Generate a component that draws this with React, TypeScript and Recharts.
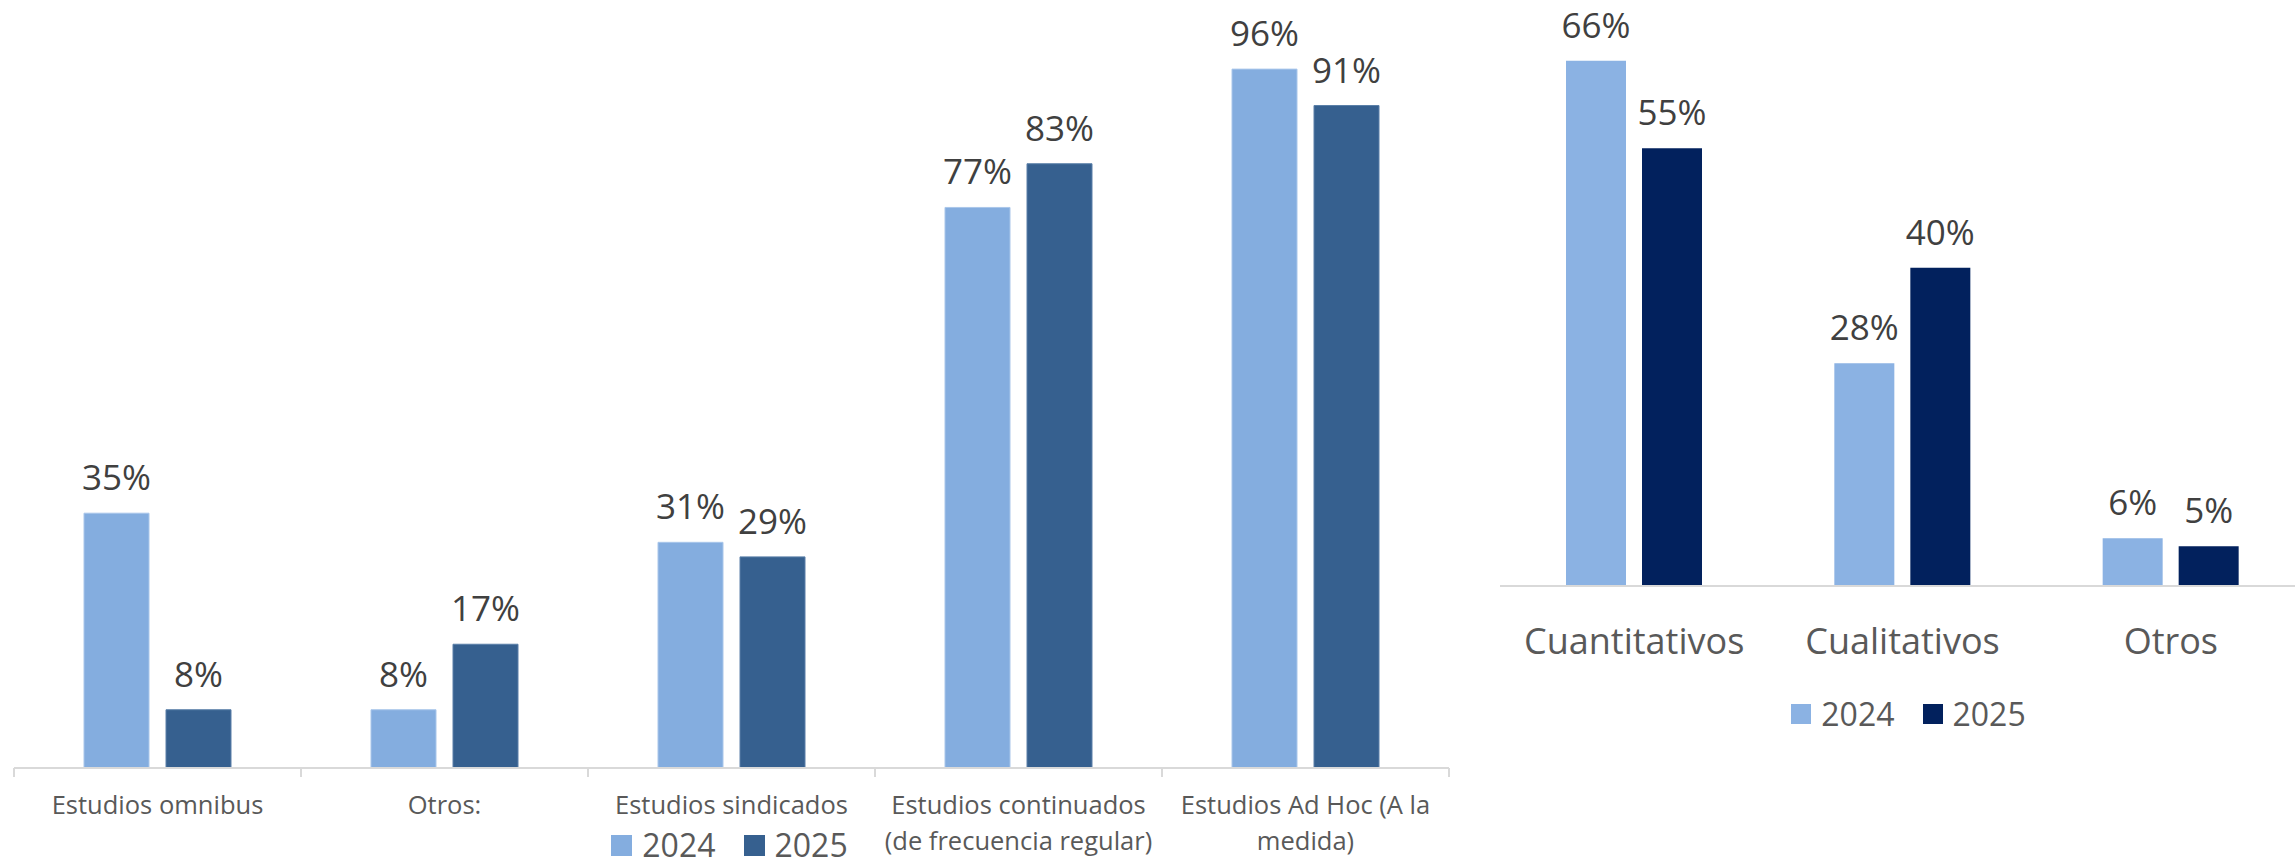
import React from 'react';
import { BarChart, Bar, XAxis, YAxis, Legend, LabelList } from 'recharts';

// left chart: tipos de estudio
const tiposEstudio = [
  'Estudios omnibus',
  'Otros:',
  'Estudios sindicados',
  'Estudios continuados\n(de frecuencia regular)',
  'Estudios Ad Hoc (A la\nmedida)',
];
const tipos2024 = [35, 8, 31, 77, 96];
const tipos2025 = [8, 17, 29, 83, 91];

// right chart: metodología
const metodos = ['Cuantitativos', 'Cualitativos', 'Otros'];
const metodos2024 = [66, 28, 6];
const metodos2025 = [55, 40, 5];

const FONT = '"Open Sans", "Noto Sans", sans-serif';

const leftData = tiposEstudio.map((name, i) => ({ name, y2024: tipos2024[i], y2025: tipos2025[i] }));
const rightData = metodos.map((name, i) => ({ name, y2024: metodos2024[i], y2025: metodos2025[i] }));

const pct = (v: any) => `${v}%`;

function LeftTick(props: any) {
  const { x, y, payload, index, visibleTicksCount } = props;
  const half = payload?.offset ?? 143.5;
  const lines = String(payload.value).split('\n');
  const last = index === (visibleTicksCount ?? tiposEstudio.length) - 1;
  return (
    <g>
      <line x1={x - half} x2={x - half} y1={y} y2={y + 9} stroke="#D9D9D9" strokeWidth={2} />
      {last && <line x1={x + half} x2={x + half} y1={y} y2={y + 9} stroke="#D9D9D9" strokeWidth={2} />}
      <text x={x} y={y} textAnchor="middle" fill="#595959" fontSize={25.5} fontFamily={FONT}>
        {lines.map((l, i) => (
          <tspan key={i} x={x} dy={i === 0 ? 46 : 36}>
            {l}
          </tspan>
        ))}
      </text>
    </g>
  );
}

function RightTick(props: any) {
  const { x, y, payload } = props;
  return (
    <text x={x} y={y} dy={68} textAnchor="middle" fill="#595959" fontSize={36} fontFamily={FONT}>
      {payload.value}
    </text>
  );
}

function makeLegend(square: number, fontSize: number) {
  return (props: any) => (
    <div style={{ display: 'flex', justifyContent: 'center', alignItems: 'center', height: 28 }}>
      {(props.payload || []).map((item: any, i: number) => (
        <div key={i} style={{ display: 'flex', alignItems: 'center', marginLeft: i === 0 ? 0 : 28 }}>
          <span style={{ width: square, height: square, background: item.color, display: 'inline-block', marginRight: 10 }} />
          <span style={{ fontSize, color: '#595959', fontFamily: FONT, lineHeight: '28px' }}>{item.value}</span>
        </div>
      ))}
    </div>
  );
}

export default function App() {
  return (
    <div style={{ position: 'absolute', left: 0, top: 0, width: 2295, height: 865, overflow: 'hidden', background: '#fff' }}>
      <div style={{ position: 'absolute', left: 0, top: 0 }}>
        <BarChart width={1460} height={865} data={leftData} margin={{ top: 40, right: 11, left: 14, bottom: 0 }} barSize={65} barGap={17}>
          <XAxis
            dataKey="name"
            height={97}
            interval={0}
            tickSize={0}
            tickMargin={0}
            tickLine={false}
            axisLine={{ stroke: '#D9D9D9', strokeWidth: 2 }}
            tick={<LeftTick />}
          />
          <YAxis hide domain={[0, 100]} />
          <Legend
            layout="vertical"
            align="center"
            verticalAlign="middle"
            content={makeLegend(21, 32)}
            wrapperStyle={{ top: 831, left: 14, width: 1431 }}
          />
          <Bar dataKey="y2024" name="2024" fill="#84ADDF" stroke="#A9C6EA" strokeWidth={1} isAnimationActive={false}>
            <LabelList dataKey="y2024" position="top" offset={23} formatter={pct} fill="#404040" fontSize={35} fontFamily={FONT} />
          </Bar>
          <Bar dataKey="y2025" name="2025" fill="#36608F" stroke="#5A7FA8" strokeWidth={1} isAnimationActive={false}>
            <LabelList dataKey="y2025" position="top" offset={23} formatter={pct} fill="#404040" fontSize={35} fontFamily={FONT} />
          </Bar>
        </BarChart>
      </div>
      <div style={{ position: 'absolute', left: 1460, top: 0 }}>
        <BarChart width={850} height={865} data={rightData} margin={{ top: 29, right: 5, left: 40, bottom: 0 }} barSize={60} barGap={16}>
          <XAxis
            dataKey="name"
            height={279}
            interval={0}
            tickSize={0}
            tickMargin={0}
            tickLine={false}
            axisLine={{ stroke: '#D9D9D9', strokeWidth: 2 }}
            tick={<RightTick />}
          />
          <YAxis hide domain={[0, 70]} />
          <Legend
            layout="vertical"
            align="center"
            verticalAlign="middle"
            content={makeLegend(20, 32)}
            wrapperStyle={{ top: 700, left: 46, width: 805 }}
          />
          <Bar dataKey="y2024" name="2024" fill="#8BB2E3" isAnimationActive={false}>
            <LabelList dataKey="y2024" position="top" offset={23} formatter={pct} fill="#404040" fontSize={35} fontFamily={FONT} />
          </Bar>
          <Bar dataKey="y2025" name="2025" fill="#02215D" isAnimationActive={false}>
            <LabelList dataKey="y2025" position="top" offset={23} formatter={pct} fill="#404040" fontSize={35} fontFamily={FONT} />
          </Bar>
        </BarChart>
      </div>
    </div>
  );
}
